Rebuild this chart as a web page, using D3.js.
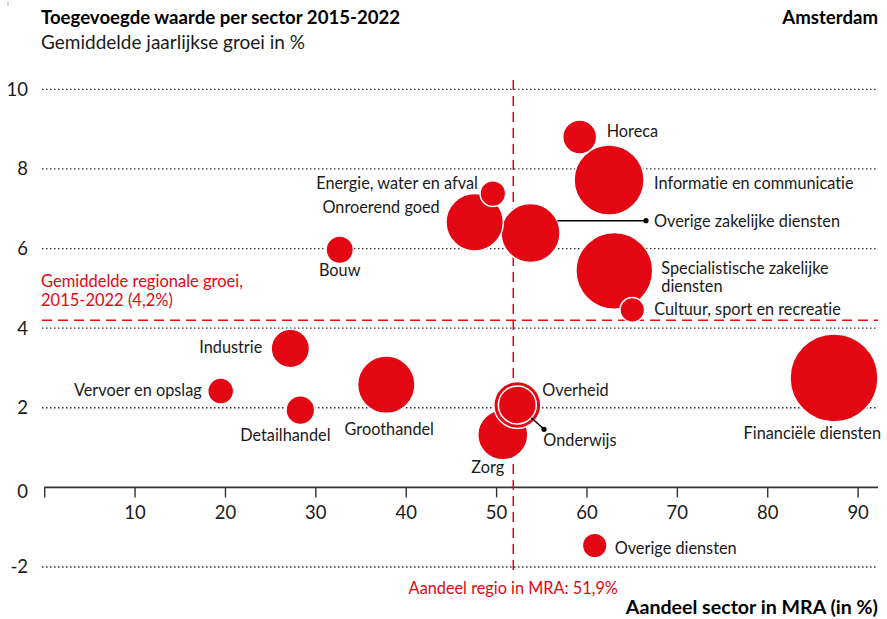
<!DOCTYPE html>
<html><head><meta charset="utf-8">
<script src="https://cdn.jsdelivr.net/npm/d3@7"></script>
<style>
html,body{margin:0;padding:0;background:#fff;}
svg{display:block;font-family:Lato,"Noto Sans",sans-serif;font-variant-ligatures:none;font-feature-settings:"liga" 0,"dlig" 0;}
</style></head>
<body><svg id="c" width="887" height="619"></svg>
<script>
// ---- data ----
const sectors = ["Horeca","Informatie en communicatie","Energie, water en afval","Onroerend goed",
  "Overige zakelijke diensten","Bouw","Specialistische zakelijke diensten","Cultuur, sport en recreatie",
  "Industrie","Vervoer en opslag","Detailhandel","Groothandel","Overheid","Onderwijs","Zorg",
  "Financiële diensten","Overige diensten"];
const aandeel = [59.25,62.5,49.64,47.63,53.81,32.7,63.08,65.07,27.23,19.53,28.34,37.85,52.35,52.35,50.74,87.39,60.91];
const groei   = [8.80,7.72,7.38,6.66,6.39,5.97,5.44,4.46,3.49,2.42,1.94,2.58,2.07,2.07,1.32,2.75,-1.46];
const omvang  = [14.9,63.3,8.5,42.5,45,9.7,76.2,7.8,19,8.7,10.6,42.5,28.5,18.6,32.3,100,7.8];
const xTicks = [10,20,30,40,50,60,70,80,90];
const yTicks = [-2,0,2,4,6,8,10];
const gemGroei = 4.2;
const aandeelRegio = 51.9;

// ---- label layout (px offsets from bubble centre) ----
const labelLayout = {
  "Horeca":{dx:27,dy:-6,a:"start"},
  "Informatie en communicatie":{dx:45,dy:3,a:"start"},
  "Energie, water en afval":{dx:-15,dy:-10.5,a:"end"},
  "Onroerend goed":{dx:-35,dy:-15,a:"end"},
  "Overige zakelijke diensten":{dx:123.5,dy:-12,a:"start",leader:[115.5,-12.3],hor:true},
  "Bouw":{dx:0,dy:21,a:"middle"},
  "Specialistische zakelijke diensten":{dx:47,dy:-3,a:"start",lines:["Specialistische zakelijke","diensten"]},
  "Cultuur, sport en recreatie":{dx:22,dy:-1,a:"start"},
  "Industrie":{dx:-28,dy:-1.5,a:"end"},
  "Vervoer en opslag":{dx:-19,dy:-1,a:"end"},
  "Detailhandel":{dx:-15,dy:25,a:"middle"},
  "Groothandel":{dx:3,dy:45,a:"middle"},
  "Overheid":{dx:25,dy:-15,a:"start"},
  "Onderwijs":{dx:26,dy:35,a:"start",leader:[26.7,24.3]},
  "Zorg":{dx:-15,dy:32,a:"middle"},
  "Financiële diensten":{dx:47,dy:55,a:"end"},
  "Overige diensten":{dx:20,dy:3,a:"start"}
};

const RED = "#e30613", DARK = "#1a1a1a";
const LBL = 16.3, BOLD = 18.6;
const svg = d3.select("#c");
const x = d3.scaleLinear().domain([0,92.3]).range([44.2,878.4]);
const y = d3.scaleLinear().domain([-2,10]).range([567,89.3]);
const r = d3.scaleSqrt().domain([0,100]).range([0,44]);

// gridlines
svg.append("g").selectAll("line").data(yTicks.filter(d=>d!==0)).join("line")
  .attr("x1",42).attr("x2",878).attr("y1",d=>y(d)).attr("y2",d=>y(d))
  .attr("stroke","#333").attr("stroke-width",1.3).attr("stroke-dasharray","1.5,2.5");

// y tick labels
svg.append("g").selectAll("text").data(yTicks).join("text")
  .attr("x",28).attr("y",d=>y(d)+(d===0?4:0)).attr("dy","0.35em").attr("text-anchor","end")
  .attr("font-size",18.5).attr("fill",DARK).text(d=>d);

// x axis
const xAxis = d3.axisBottom(x).tickValues([0].concat(xTicks)).tickSize(10).tickPadding(8)
  .tickFormat(d=>d===0?"":d);
const gx = svg.append("g").attr("transform",`translate(0,${y(0)})`).call(xAxis);
gx.select(".domain").attr("d",`M${x(0)},0H878`).attr("stroke","#333").attr("stroke-width",1.6);
gx.selectAll(".tick line").attr("stroke","#333").attr("stroke-width",1.4);
gx.selectAll(".tick text").attr("font-size",18.5).attr("fill",DARK).attr("font-family","Lato");

// reference lines
svg.append("line").attr("x1",42).attr("x2",878).attr("y1",y(gemGroei)).attr("y2",y(gemGroei))
  .attr("stroke",RED).attr("stroke-width",1.5).attr("stroke-dasharray","10,6");
svg.append("line").attr("x1",x(aandeelRegio)).attr("x2",x(aandeelRegio)).attr("y1",80).attr("y2",573)
  .attr("stroke",RED).attr("stroke-width",1.5).attr("stroke-dasharray","10,6");

// bubbles
const data = sectors.map((s,i)=>({s, xv:aandeel[i], yv:groei[i], size:omvang[i]}));
const sorted = data.slice().sort((a,b)=>b.size-a.size);
svg.append("g").selectAll("circle").data(sorted).join("circle")
  .attr("cx",d=>x(d.xv)).attr("cy",d=>y(d.yv)).attr("r",d=>r(d.size))
  .attr("fill",RED).attr("stroke","#fff").attr("stroke-width",1.5);

// leaders
const lg = svg.append("g");
data.forEach(d=>{
  const L = labelLayout[d.s]; if(!L.leader) return;
  const cx=x(d.xv), cy=y(d.yv), rr=r(d.size);
  const ex=cx+L.leader[0], ey=cy+L.leader[1];
  let sx, sy;
  if(L.hor){ sy=ey; sx=cx+Math.sqrt(rr*rr-L.leader[1]*L.leader[1]); }
  else { const n=Math.hypot(L.leader[0],L.leader[1]); sx=cx+L.leader[0]/n*rr; sy=cy+L.leader[1]/n*rr; }
  lg.append("line").attr("x1",sx).attr("y1",sy).attr("x2",ex).attr("y2",ey).attr("stroke","#000").attr("stroke-width",1.5);
  lg.append("circle").attr("cx",ex).attr("cy",ey).attr("r",2.6).attr("fill","#000");
});

// labels
const tg = svg.append("g");
data.forEach(d=>{
  const L = labelLayout[d.s];
  const t = tg.append("text").attr("x",x(d.xv)+L.dx).attr("y",y(d.yv)+L.dy)
    .attr("text-anchor",L.a).attr("font-size",LBL).attr("fill",DARK);
  const lines = L.lines || [d.s];
  lines.forEach((ln,i)=>t.append("tspan").attr("x",x(d.xv)+L.dx).attr("dy",i===0?"0.35em":"1.12em").text(ln));
});

// annotations
const ann = svg.append("text").attr("x",41).attr("y",287).attr("font-size",16.5).attr("fill",RED);
ann.append("tspan").attr("x",41).text("Gemiddelde regionale groei,");
ann.append("tspan").attr("x",41).attr("dy","1.15em").text("2015-2022 (4,2%)");
svg.append("text").attr("x",x(aandeelRegio)).attr("y",594).attr("text-anchor","middle")
  .attr("font-size",16.3).attr("fill",RED).text("Aandeel regio in MRA: 51,9%");

// titles
svg.append("text").attr("x",41).attr("y",24).attr("font-size",BOLD).attr("font-weight","bold").attr("fill","#000")
  .text("Toegevoegde waarde per sector 2015-2022");
svg.append("text").attr("x",41).attr("y",49).attr("font-size",19).attr("fill",DARK)
  .text("Gemiddelde jaarlijkse groei in %");
svg.append("text").attr("x",878).attr("y",24).attr("font-size",BOLD).attr("font-weight","bold").attr("text-anchor","end")
  .attr("fill","#000").text("Amsterdam");
svg.append("text").attr("x",878).attr("y",614).attr("font-size",19.6).attr("font-weight","bold").attr("text-anchor","end")
  .attr("fill","#000").text("Aandeel sector in MRA (in %)");
svg.append("line").attr("x1",8).attr("x2",8).attr("y1",1).attr("y2",6).attr("stroke","#aaa").attr("stroke-width",1);
</script></body></html>
